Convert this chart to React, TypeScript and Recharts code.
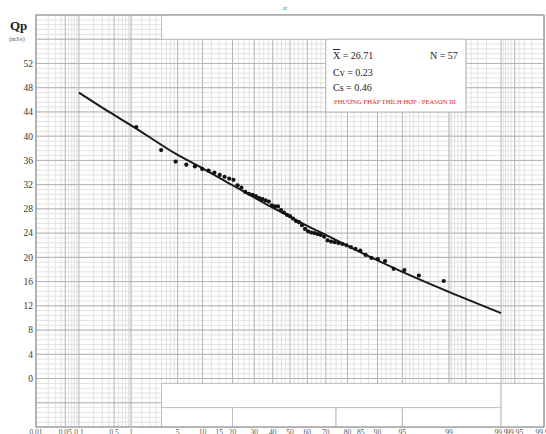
import { ComposedChart, Line, Scatter, XAxis, YAxis, CartesianGrid, ReferenceArea } from 'recharts'

// fitted Pearson III curve (exceedance % -> Qp)
const curveP = [0.1, 0.5, 1, 5, 10, 20, 30, 40, 50, 60, 70, 80, 90, 95, 99, 99.9]
const curveQ = [47.2, 43.5, 41.8, 36.9, 34.7, 31.9, 29.9, 28.2, 26.7, 25.2, 23.7, 21.9, 19.5, 17.6, 14.3, 10.8]

// empirical points (57 years)
const obsP = [
  1.22, 2.96, 4.7, 6.45, 8.19, 9.93, 11.67, 13.41, 15.16, 16.9, 18.64, 20.38, 22.13, 23.87, 25.61,
  27.35, 29.09, 30.84, 32.58, 34.32, 36.06, 37.8, 39.55, 41.29, 43.03, 44.77, 46.52, 48.26, 50.0,
  51.74, 53.48, 55.23, 56.97, 58.71, 60.45, 62.2, 63.94, 65.68, 67.42, 69.16, 70.91, 72.65, 74.39,
  76.13, 77.87, 79.62, 81.36, 83.1, 84.84, 86.59, 88.33, 90.07, 91.81, 93.55, 95.3, 97.04, 98.78,
]
const obsQ = [
  41.5, 37.7, 35.8, 35.3, 35.0, 34.6, 34.3, 34.0, 33.6, 33.3, 33.0, 32.8, 31.9, 31.5, 30.8,
  30.5, 30.3, 30.1, 29.8, 29.6, 29.4, 29.2, 28.6, 28.4, 28.4, 27.8, 27.4, 27.0, 26.8,
  26.4, 26.0, 25.8, 25.3, 24.7, 24.3, 24.1, 24.0, 23.85, 23.7, 23.4, 22.8, 22.6, 22.5,
  22.35, 22.2, 22.0, 21.7, 21.4, 21.1, 20.4, 19.9, 19.7, 19.4, 18.1, 17.9, 17.0, 16.1,
]

const xTickP = [0.01, 0.05, 0.1, 0.5, 1, 5, 10, 15, 20, 30, 40, 50, 60, 70, 80, 85, 90, 95, 99, 99.9, 99.95, 99.99]
const yTicks = [0, 4, 8, 12, 16, 20, 24, 28, 32, 36, 40, 44, 48, 52]

// probability paper grid (left half, mirrored)
const gridMajorHalf = [0.01, 0.05, 0.1, 0.5, 1, 5, 10, 20, 30, 40]
const gridMinorHalf = [
  0.02, 0.03, 0.04, 0.06, 0.07, 0.08, 0.09, 0.2, 0.3, 0.4, 0.6, 0.7, 0.8, 0.9, 0.95,
  1.5, 2, 2.5, 3, 3.5, 4, 4.5, 6, 7, 8, 9, 12.5, 15, 17.5, 22.5, 25, 27.5, 32.5, 35, 37.5, 42.5, 45, 47.5,
]

function normInv(p: number) {
  const a = [-39.69683028665376, 220.9460984245205, -275.9285104469687, 138.357751867269, -30.66479806614716, 2.506628277459239]
  const b = [-54.47609879822406, 161.5858368580409, -155.6989798598866, 66.80131188771972, -13.28068155288572]
  const c = [-0.007784894002430293, -0.3223964580411365, -2.400758277161838, -2.549732539343734, 4.374664141464968, 2.938163982698783]
  const d = [0.007784695709041462, 0.3224671290700398, 2.445134137142996, 3.754408661907416]
  const pl = 0.02425
  if (p < pl) {
    const q = Math.sqrt(-2 * Math.log(p))
    return (((((c[0] * q + c[1]) * q + c[2]) * q + c[3]) * q + c[4]) * q + c[5]) / ((((d[0] * q + d[1]) * q + d[2]) * q + d[3]) * q + 1)
  }
  if (p <= 1 - pl) {
    const q = p - 0.5
    const r = q * q
    return ((((((a[0] * r + a[1]) * r + a[2]) * r + a[3]) * r + a[4]) * r + a[5]) * q) / (((((b[0] * r + b[1]) * r + b[2]) * r + b[3]) * r + b[4]) * r + 1)
  }
  const q = Math.sqrt(-2 * Math.log(1 - p))
  return -(((((c[0] * q + c[1]) * q + c[2]) * q + c[3]) * q + c[4]) * q + c[5]) / ((((d[0] * q + d[1]) * q + d[2]) * q + d[3]) * q + 1)
}

const z = (p: number) => normInv(p / 100)
const X0 = z(0.01)
const X1 = z(99.99)
const Y0 = -8
const Y1 = 60

const curveData = curveP.map((p, i) => ({ z: z(p), q: curveQ[i] }))
const obsData = obsP.map((p, i) => ({ z: z(p), q: obsQ[i] }))

const vMajor = [...gridMajorHalf, 50, ...gridMajorHalf.map((p) => 100 - p)].map(z)
const vMinor = [...gridMinorHalf, ...gridMinorHalf.map((p) => 100 - p)].map(z)
const hMinor: number[] = []
for (let i = 0; i <= 85; i++) hMinor.push(Y0 + i * 0.8)
const hMajor: number[] = []
for (let v = Y0; v <= Y1; v += 4) hMajor.push(v)

const vGen = (vals: number[]) => ({ xAxis, offset }: any) =>
  vals.map((v) =>
    xAxis && typeof xAxis.scale === 'function' ? xAxis.scale(v) : offset.left + ((v - X0) / (X1 - X0)) * offset.width
  )
const hGen = (vals: number[]) => ({ yAxis, offset }: any) =>
  vals.map((v) =>
    yAxis && typeof yAxis.scale === 'function' ? yAxis.scale(v) : offset.top + ((Y1 - v) / (Y1 - Y0)) * offset.height
  )

const serif = '"Liberation Serif", "DejaVu Serif", serif'

const XTick = ({ x, y, index }: any) => (
  <text x={x} y={y + 8} textAnchor="middle" fontSize={7.5} fontFamily={serif} fill="#555">
    {String(xTickP[index])}
  </text>
)

export default function App() {
  const box = { fill: '#fff', fillOpacity: 1, stroke: '#bdbdbd', strokeWidth: 1 }
  return (
    <div style={{ position: 'absolute', left: 0, top: 0, width: 546, height: 434, background: '#fff', overflow: 'hidden' }}>
      <ComposedChart width={546} height={434} margin={{ top: 15, right: 2, bottom: 0, left: 0 }}>
        <CartesianGrid
          stroke="#e2e2e2"
          verticalCoordinatesGenerator={vGen(vMinor)}
          horizontalCoordinatesGenerator={hGen(hMinor)}
        />
        <CartesianGrid
          stroke="#b3b3b3"
          verticalCoordinatesGenerator={vGen(vMajor)}
          horizontalCoordinatesGenerator={hGen(hMajor)}
        />
        <XAxis
          type="number"
          dataKey="z"
          domain={[X0, X1]}
          ticks={xTickP.map(z)}
          tick={<XTick />}
          axisLine={false}
          tickLine={false}
          tickSize={0}
          tickMargin={0}
          height={7}
          allowDataOverflow
          interval={0}
        />
        <YAxis
          type="number"
          dataKey="q"
          domain={[Y0, Y1]}
          ticks={yTicks}
          width={36}
          axisLine={false}
          tickLine={false}
          tickSize={0}
          tickMargin={3}
          interval={0}
          allowDataOverflow
          tick={{ fontSize: 9.5, fontFamily: serif, fill: '#333' }}
        />
        <ReferenceArea x1={z(3)} x2={X1} y1={56} y2={Y1} {...box} />
        <ReferenceArea x1={z(70)} x2={z(99.5)} y1={44} y2={56} {...box} />
        <ReferenceArea x1={z(3)} x2={z(99.9)} y1={Y0} y2={-0.8} {...box} />
        <ReferenceArea x1={z(3)} x2={z(20)} y1={Y0} y2={-4.8} {...box} />
        <ReferenceArea x1={z(20)} x2={z(75)} y1={Y0} y2={-4.8} {...box} />
        <ReferenceArea x1={z(75)} x2={z(95)} y1={Y0} y2={-4.8} {...box} />
        <ReferenceArea x1={z(95)} x2={z(99.9)} y1={Y0} y2={-4.8} {...box} />
        <ReferenceArea x1={z(99.9)} x2={X1} y1={Y0} y2={-0.8} {...box} />
        <ReferenceArea x1={X0} x2={X1} y1={Y0} y2={Y1} fill="none" fillOpacity={0} stroke="#999" strokeWidth={1.2} />
        <Line
          data={curveData}
          dataKey="q"
          type="monotone"
          stroke="#1a1a1a"
          strokeWidth={2}
          dot={false}
          isAnimationActive={false}
        />
        <Scatter
          data={obsData}
          dataKey="q"
          fill="#111"
          shape={(props: any) => <circle cx={props.cx} cy={props.cy} r={2.1} fill="#111" />}
          isAnimationActive={false}
        />
      </ComposedChart>
      <div style={{ position: 'absolute', left: 283, top: 4, fontFamily: serif, fontSize: 7, color: '#5b7fb8' }}>ư</div>
      <div style={{ position: 'absolute', left: 10, top: 18, fontFamily: serif, fontWeight: 'bold', fontSize: 13, color: '#222' }}>Qp</div>
      <div style={{ position: 'absolute', left: 9, top: 36, fontFamily: serif, fontSize: 6, color: '#555' }}>(m3/s)</div>
      <div style={{ position: 'absolute', left: 333, top: 50, fontFamily: serif, fontSize: 10, color: '#222', lineHeight: '12px' }}>
        <span style={{ textDecoration: 'overline' }}>X</span> = 26.71
      </div>
      <div style={{ position: 'absolute', left: 430, top: 50, fontFamily: serif, fontSize: 10, color: '#222', lineHeight: '12px' }}>N = 57</div>
      <div style={{ position: 'absolute', left: 333, top: 67, fontFamily: serif, fontSize: 10, color: '#222', lineHeight: '12px' }}>Cv = 0.23</div>
      <div style={{ position: 'absolute', left: 333, top: 82, fontFamily: serif, fontSize: 10, color: '#222', lineHeight: '12px' }}>Cs = 0.46</div>
      <div style={{ position: 'absolute', left: 334, top: 98, fontFamily: serif, fontSize: 6.6, color: '#e0242b', lineHeight: '8px', whiteSpace: 'nowrap' }}>
        PHƯƠNG PHÁP THÍCH HỢP - PEASON III
      </div>
    </div>
  )
}
